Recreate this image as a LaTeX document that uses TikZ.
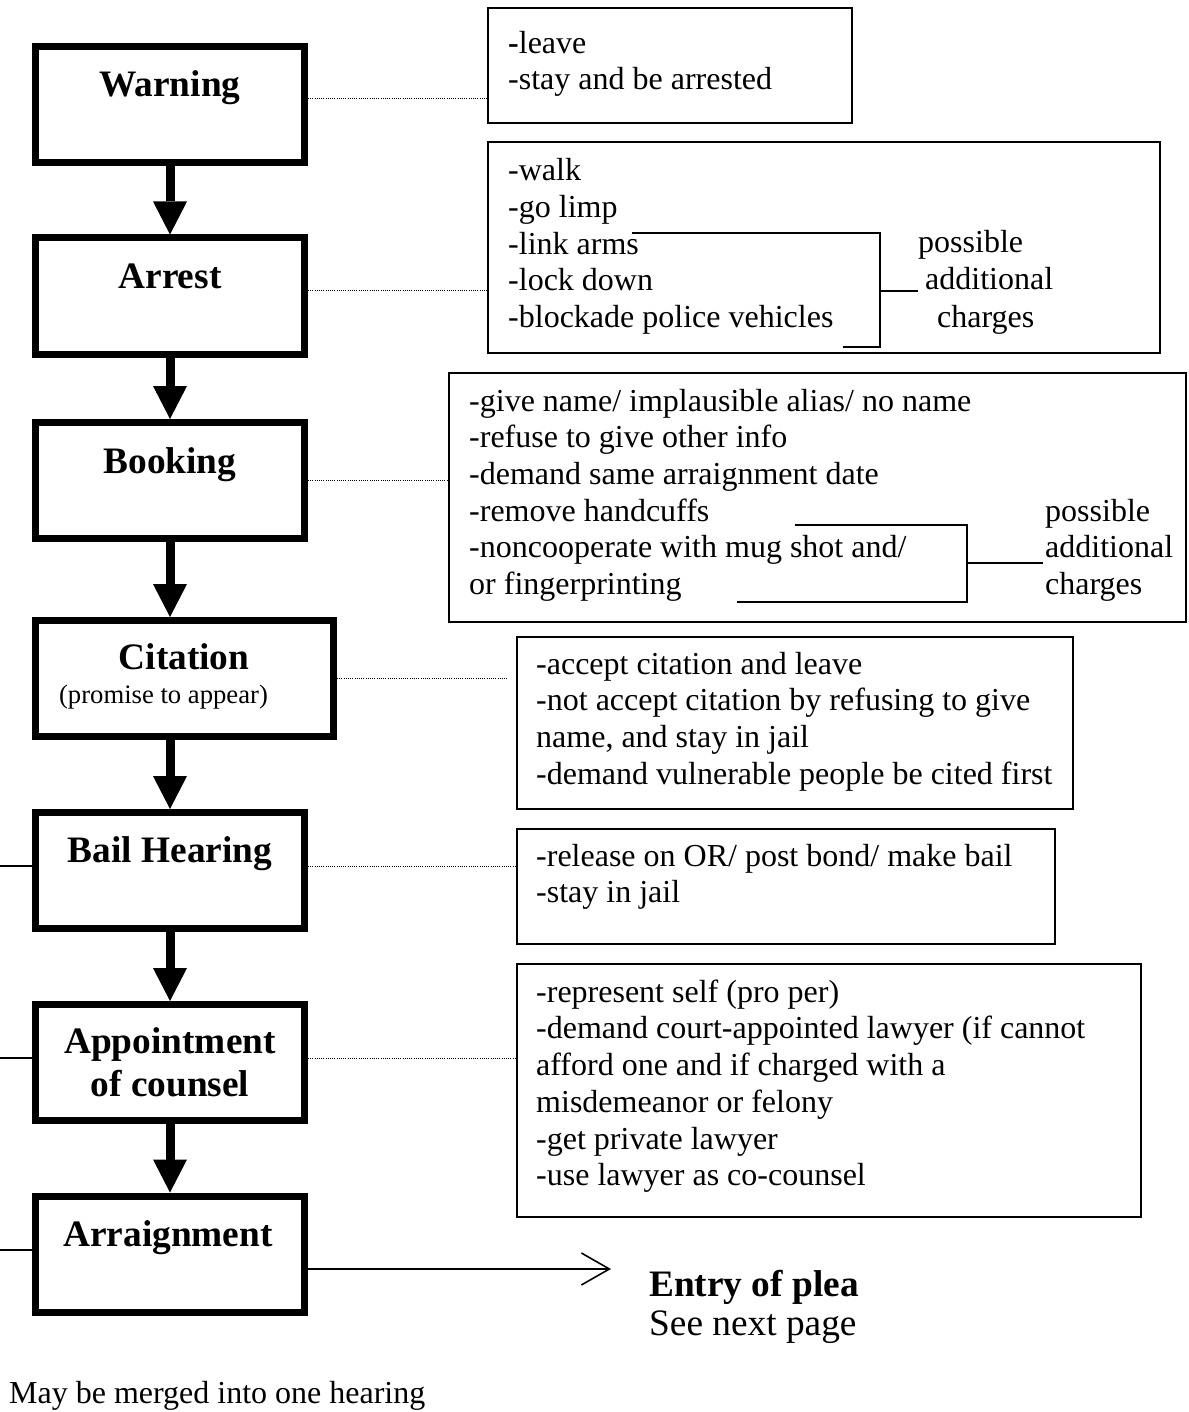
\documentclass[tikz,border=0pt]{standalone}
\usepackage{fontspec}
\setmainfont{Liberation Serif}
\usetikzlibrary{arrows.meta,calc}
\begin{document}
\begin{tikzpicture}[x=1pt,y=-1pt,
  stage/.style={draw, line width=7pt, rectangle, inner sep=0pt, minimum width=269pt, minimum height=116pt},
  lab/.style={font=\fontsize{37.33}{43}\selectfont\bfseries, inner sep=0pt, anchor=base},
  optbox/.style={draw, line width=1.6pt, rectangle, inner sep=0pt, anchor=north west},
  opttext/.style={font=\fontsize{32}{36.7}\selectfont, inner sep=0pt, anchor=north west, align=left},
  plain/.style={font=\fontsize{32}{36.7}\selectfont, inner sep=0pt, anchor=base west},
  dotline/.style={line width=0.9pt, dash pattern=on 0.9pt off 1.3pt},
  flow/.style={line width=9pt, -{Triangle[width=34pt,length=33pt,line width=0pt]}},
  thinline/.style={line width=1.6pt}]
\fill[white] (0,0) rectangle (1188,1412);
\useasboundingbox (0,0) rectangle (1188,1412);

% stage boxes
\node[stage] (warn) at (170,104.5) {};
\node[stage] (arrest) at (170,296) {};
\node[stage] (book) at (170,480.5) {};
\node[stage, minimum width=298pt] (cit) at (184.5,678.5) {};
\node[stage] (bail) at (170,870.5) {};
\node[stage] (app) at (170,1062.5) {};
\node[stage] (arr) at (170,1254) {};

% stage labels
\node[lab] (warnT) at (170,97) {Warning};
\node[lab] (arrestT) at (170,289) {Arrest};
\node[lab] (bookT) at (170,473) {Booking};
\node[lab] (citT) at (184,669) {Citation};
\node[font=\fontsize{26.67}{30}\selectfont, inner sep=0pt, anchor=base] (promT) at (163.5,703) {(promise to appear)};
\node[lab] (bailT) at (170,862) {Bail Hearing};
\node[lab] (appT) at (170,1053) {Appointment};
\node[lab] (cnsT) at (170,1096) {of counsel};
\node[lab] (arrT) at (168,1246) {Arraignment};

% flow arrows
\draw[flow] (warn.south) -- (arrest.north);
\draw[flow] (arrest.south) -- (book.north);
\draw[flow] (book.south) -- (book.south |- cit.north);
\draw[flow] (cit.south -| bail.north) -- (bail.north);
\draw[flow] (bail.south) -- (app.north);
\draw[flow] (app.south) -- (arr.north);

% option boxes
\node[optbox, minimum width=364pt, minimum height=115pt] (o1) at (487,7) {};
\node[optbox, minimum width=672pt, minimum height=211pt] (o2) at (487,141) {};
\node[optbox, minimum width=737pt, minimum height=249pt] (o3) at (448,372) {};
\node[optbox, minimum width=556pt, minimum height=172pt] (o4) at (516,636) {};
\node[optbox, minimum width=538pt, minimum height=115pt] (o5) at (516,828) {};
\node[optbox, minimum width=624pt, minimum height=253pt] (o6) at (516,963) {};

% option texts
\node[opttext] (t1) at (508,27.3) {\strut\textbf{-}leave\\-stay and be arrested};
\node[opttext] (t2) at (508,154.8) {\strut-walk\\-go limp\\-link arms\\-lock down\\-blockade police vehicles};
\node[opttext] (t3) at (469,385.3) {\strut-give name/ implausible alias/ no name\\-refuse to give other info\\-demand same arraignment date\\-remove handcuffs\\-noncooperate with mug shot and/\\or fingerprinting};
\node[opttext] (t4) at (536,648.3) {\strut-accept citation and leave\\-not accept citation by refusing to give\\name, and stay in jail\\-demand vulnerable people be cited first};
\node[opttext] (t5) at (536,840.3) {\strut-release on OR/ post bond/ make bail\\-stay in jail};
\node[opttext] (t6) at (536,976.3) {\strut-represent self (pro per)\\-demand court-appointed lawyer (if cannot\\afford one and if charged with a\\misdemeanor or felony\\-get private lawyer\\-use lawyer as co-counsel};

% brackets
\draw[thinline] (632,233) -- (880,233) -- (880,347) -- (843,347);
\draw[thinline] (880,291) -- (918,291);
\node[plain] (pa1) at (918,253) {possible};
\node[plain] (ad1) at (925,290) {additional};
\node[plain] (ch1) at (937,327) {charges};

\draw[thinline] (795,525) -- (967,525) -- (967,602) -- (737,602);
\draw[thinline] (967,563) -- (1043,563);
\node[plain] (pa2) at (1045,521) {possible};
\node[plain] (ad2) at (1045,557) {additional};
\node[plain] (ch2) at (1045,594) {charges};

% dotted connectors
\coordinate (d1) at ($(warn.east)+(0,-6.5)$);
\draw[dotline] (d1) -- (d1 -| o1.west);
\coordinate (d2) at ($(arrest.east)+(0,-6)$);
\draw[dotline] (d2) -- (d2 -| o2.west);
\draw[dotline] (book.east) -- (book.east -| o3.west);
\coordinate (d4) at ($(cit.east -| o4.west)+(-9,0)$);
\draw[dotline] (cit.east) -- (d4);
\coordinate (d5) at ($(bail.east)+(0,-4.5)$);
\draw[dotline] (d5) -- (d5 -| o5.west);
\coordinate (d6) at ($(app.east)+(0,-4.5)$);
\draw[dotline] (d6) -- (d6 -| o6.west);

% left merge lines
\coordinate (l1) at (0,866);
\coordinate (l2) at (0,1058);
\coordinate (l3) at (0,1250);
\draw[thinline] (l1) -- (l1 -| bail.west);
\draw[thinline] (l2) -- (l2 -| app.west);
\draw[thinline] (l3) -- (l3 -| arr.west);

% arraignment arrow
\coordinate (ae) at ($(arr.east)+(0,15)$);
\coordinate (ptip) at (611,1269);
\draw[thinline, -{Straight Barb[length=28pt,width=32pt]}] (ae) -- (ptip);

\node[lab, anchor=base west] (plea) at (649,1296) {Entry of plea};
\node[font=\fontsize{37.33}{43}\selectfont, inner sep=0pt, anchor=base west] (next) at (649,1335) {See next page};
\node[plain] (merge) at (9,1403) {May be merged into one hearing};
\end{tikzpicture}
\end{document}
